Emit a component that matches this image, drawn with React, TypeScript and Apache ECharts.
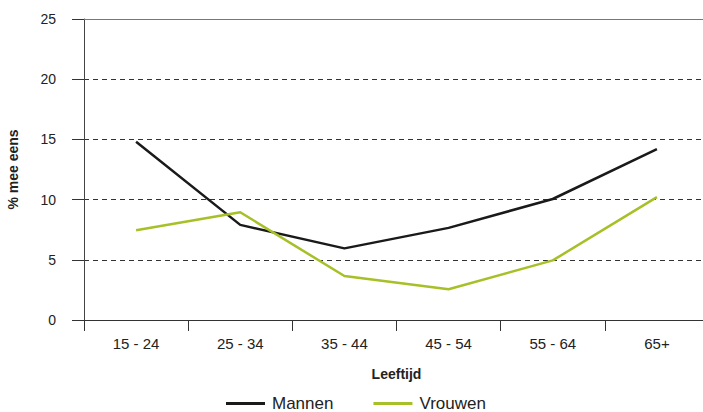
import React, { useEffect, useRef } from "react";
import * as echarts from "echarts";

const categories = ["15 - 24", "25 - 34", "35 - 44", "45 - 54", "55 - 64", "65+"];
const mannen = [14.8, 7.9, 5.95, 7.65, 10.05, 14.2];
const vrouwen = [7.45, 8.95, 3.65, 2.55, 4.95, 10.2];
const yTicks = { min: 0, max: 25, interval: 5 };

const FONT = "Liberation Sans, Arial, sans-serif";

export default function App() {
  const ref = useRef<HTMLDivElement>(null);
  useEffect(() => {
    if (!ref.current) return;
    const chart = echarts.init(ref.current, undefined, { renderer: "svg" });
    chart.setOption({
      animation: false,
      textStyle: { fontFamily: FONT },
      grid: {
        left: 84,
        right: -6,
        top: 19,
        bottom: 92,
        containLabel: false,
        outerBoundsMode: "none",
      },
      legend: {
        top: 395,
        left: 226,
        padding: 0,
        icon: "rect",
        itemWidth: 39,
        itemHeight: 3,
        itemGap: 40,
        textStyle: { fontFamily: FONT, fontSize: 17, color: "#222", padding: [0, 0, 0, 2] },
        data: ["Mannen", "Vrouwen"],
      },
      xAxis: {
        type: "category",
        data: categories,
        boundaryGap: true,
        name: "Leeftijd",
        nameLocation: "middle",
        nameGap: 47,
        nameTextStyle: { fontFamily: FONT, fontSize: 14, fontWeight: "bold", color: "#222" },
        axisLine: { lineStyle: { color: "#333", width: 1 } },
        axisTick: { show: true, length: 11, lineStyle: { color: "#333" } },
        axisLabel: { fontFamily: FONT, fontSize: 15, color: "#222", margin: 16 },
      },
      yAxis: {
        type: "value",
        min: yTicks.min,
        max: yTicks.max,
        interval: yTicks.interval,
        name: "% mee eens",
        nameLocation: "middle",
        nameGap: 64,
        nameTextStyle: { fontFamily: FONT, fontSize: 14, fontWeight: "bold", color: "#222" },
        axisLine: { show: true, lineStyle: { color: "#444", width: 1 } },
        axisTick: { show: true, length: 12, lineStyle: { color: "#333" } },
        axisLabel: { fontFamily: FONT, fontSize: 14, color: "#222", margin: 28 },
        splitLine: {
          show: true,
          lineStyle: { color: "#333", type: [5, 4], width: 1 },
        },
      },
      series: [
        {
          name: "Mannen",
          type: "line",
          data: mannen,
          symbol: "none",
          lineStyle: { color: "#1a1a1a", width: 2.5 },
          itemStyle: { color: "#1a1a1a" },
          markLine: {
            silent: true,
            symbol: "none",
            label: { show: false },
            lineStyle: { color: "#777", type: "solid", width: 1.2 },
            data: [{ yAxis: 25 }],
          },
        },
        {
          name: "Vrouwen",
          type: "line",
          data: vrouwen,
          symbol: "none",
          lineStyle: { color: "#a7c027", width: 2.5 },
          itemStyle: { color: "#a7c027" },
        },
      ],
    });
    return () => chart.dispose();
  }, []);
  return (
    <div
      ref={ref}
      style={{ position: "fixed", left: 0, top: 0, width: 703, height: 412, background: "#fff" }}
    />
  );
}
